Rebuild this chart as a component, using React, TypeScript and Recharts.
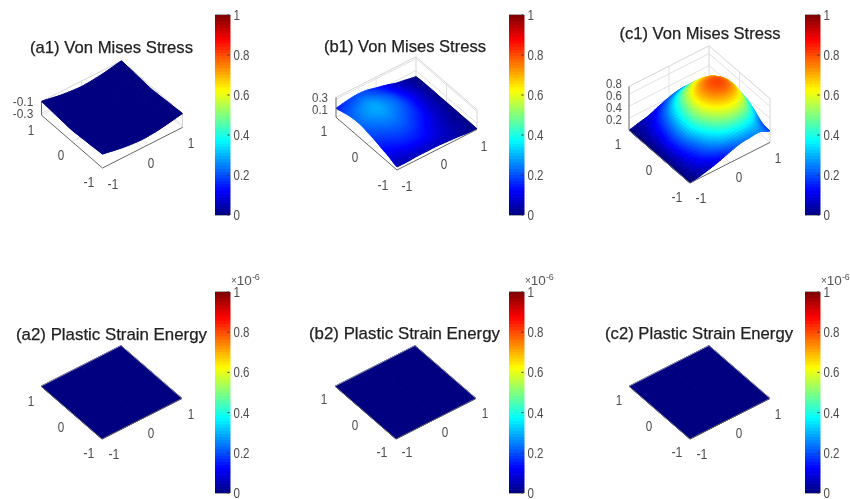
import React from 'react';
import { ScatterChart, Scatter, XAxis, YAxis, BarChart, Bar, ReferenceArea } from 'recharts';

const FONT = '"Liberation Sans", Arial, sans-serif';

// Heights, rows y = -1..1, columns x = -1..1
const zA1 = [
  [-0.10, -0.13, -0.16, -0.18, -0.19, -0.18, -0.16, -0.13, -0.10],
  [-0.11, -0.15, -0.18, -0.20, -0.21, -0.20, -0.18, -0.15, -0.11],
  [-0.12, -0.17, -0.20, -0.22, -0.23, -0.22, -0.20, -0.17, -0.12],
  [-0.13, -0.18, -0.21, -0.23, -0.24, -0.23, -0.21, -0.18, -0.13],
  [-0.14, -0.18, -0.22, -0.24, -0.25, -0.24, -0.22, -0.18, -0.14],
  [-0.13, -0.18, -0.21, -0.23, -0.24, -0.23, -0.21, -0.18, -0.13],
  [-0.12, -0.17, -0.20, -0.22, -0.23, -0.22, -0.20, -0.17, -0.12],
  [-0.11, -0.15, -0.18, -0.20, -0.21, -0.20, -0.18, -0.15, -0.11],
  [-0.10, -0.13, -0.16, -0.18, -0.19, -0.18, -0.16, -0.13, -0.10],
];
const zB1 = [
  [0.05, 0.05, 0.06, 0.06, 0.06, 0.05, 0.04, 0.02, 0.01],
  [0.10, 0.11, 0.13, 0.13, 0.11, 0.08, 0.05, 0.03, 0.01],
  [0.14, 0.16, 0.18, 0.17, 0.14, 0.10, 0.06, 0.03, 0.01],
  [0.18, 0.20, 0.22, 0.21, 0.17, 0.13, 0.08, 0.04, 0.01],
  [0.21, 0.24, 0.26, 0.24, 0.20, 0.15, 0.09, 0.05, 0.01],
  [0.23, 0.27, 0.29, 0.26, 0.22, 0.16, 0.10, 0.05, 0.01],
  [0.22, 0.26, 0.28, 0.25, 0.21, 0.15, 0.10, 0.05, 0.01],
  [0.19, 0.22, 0.24, 0.22, 0.18, 0.13, 0.08, 0.04, 0.01],
  [0.15, 0.18, 0.20, 0.19, 0.15, 0.11, 0.06, 0.03, 0.00],
];
const zC1 = [
  [0, 0.03, 0.07, 0.12, 0.18, 0.23, 0.25, 0.26, 0.19],
  [0, 0.07, 0.15, 0.25, 0.36, 0.43, 0.43, 0.35, 0.21],
  [0, 0.10, 0.21, 0.37, 0.53, 0.63, 0.63, 0.52, 0.31],
  [0, 0.12, 0.27, 0.47, 0.66, 0.77, 0.77, 0.65, 0.39],
  [0, 0.13, 0.28, 0.48, 0.69, 0.79, 0.79, 0.67, 0.41],
  [0, 0.11, 0.25, 0.43, 0.62, 0.72, 0.72, 0.60, 0.36],
  [0, 0.09, 0.20, 0.35, 0.50, 0.59, 0.59, 0.49, 0.29],
  [0, 0.06, 0.14, 0.24, 0.35, 0.42, 0.42, 0.34, 0.20],
  [0, 0.04, 0.08, 0.15, 0.21, 0.25, 0.25, 0.20, 0.12],
];
const zFlat = [
  [0, 0, 0],
  [0, 0, 0],
  [0, 0, 0],
];

const barTicks = [0, 0.2, 0.4, 0.6, 0.8, 1];
const jetSteps = 64;

const panels = [
  {
    id: 'a1', title: '(a1) Von Mises Stress', tx: 111.5, ty: 47, tw: 163, ox: 102.5, oy: 168, z: zA1, zFloor: -0.33, zTop: -0.1, zLines: [-0.3],
    barX: 215, barTop: 15, barH: 200, exp: false,
    labels: [['-0.1', 23, 101], ['-0.3', 23, 113], ['1', 31, 130], ['0', 61, 155], ['-1', 89, 182], ['-1', 113, 184], ['0', 151, 163], ['1', 191, 143]],
  },
  {
    id: 'b1', title: '(b1) Von Mises Stress', tx: 405, ty: 46, tw: 162, ox: 397, oy: 170, z: zB1, zFloor: 0, zTop: 0.33, zLines: [0.1, 0.3],
    barX: 509, barTop: 15, barH: 200, exp: false,
    labels: [['0.3', 320, 97], ['0.1', 320, 109], ['1', 324, 131], ['0', 355, 157], ['-1', 383, 185], ['-1', 407, 186], ['0', 444, 164], ['1', 484, 146]],
  },
  {
    id: 'c1', title: '(c1) Von Mises Stress', tx: 700, ty: 33, tw: 161, ox: 690, oy: 183, z: zC1, zFloor: 0, zTop: 0.73, zLines: [0.2, 0.4, 0.6],
    barX: 805, barTop: 15, barH: 200, exp: false,
    labels: [['0.8', 614, 83], ['0.6', 614, 95], ['0.4', 614, 107], ['0.2', 614, 119], ['1', 618, 144], ['0', 649, 170], ['-1', 677, 197], ['-1', 701, 198], ['0', 739, 177], ['1', 778, 158]],
  },
  {
    id: 'a2', title: '(a2) Plastic Strain Energy', tx: 111.5, ty: 334, tw: 191, ox: 102, oy: 439, z: zFlat, zFloor: 0, zTop: 0, zLines: [],
    barX: 215, barTop: 292, barH: 201, exp: true,
    labels: [['1', 31, 401], ['0', 61, 427], ['-1', 89, 453], ['-1', 114, 454], ['0', 151, 433], ['1', 191, 414]],
  },
  {
    id: 'b2', title: '(b2) Plastic Strain Energy', tx: 404.5, ty: 333, tw: 191, ox: 396, oy: 439, z: zFlat, zFloor: 0, zTop: 0, zLines: [],
    barX: 509, barTop: 292, barH: 201, exp: true,
    labels: [['1', 324, 399], ['0', 355, 425], ['-1', 382, 452], ['-1', 407, 452], ['0', 445, 432], ['1', 485, 413]],
  },
  {
    id: 'c2', title: '(c2) Plastic Strain Energy', tx: 699, ty: 333, tw: 188, ox: 690, oy: 439, z: zFlat, zFloor: 0, zTop: 0, zLines: [],
    barX: 805, barTop: 292, barH: 201, exp: true,
    labels: [['1', 619, 400], ['0', 649, 426], ['-1', 677, 452], ['-1', 702, 454], ['0', 739, 433], ['1', 778, 414]],
  },
];

type Panel = (typeof panels)[number];

const VIEW = { exx: 40, exy: -20.3, eyx: -30.5, eyy: -26.4, zs: 60 };

function project(p: Panel, x: number, y: number, z: number) {
  return {
    px: p.ox + (x + 1) * VIEW.exx + (y + 1) * VIEW.eyx,
    py: p.oy + (x + 1) * VIEW.exy + (y + 1) * VIEW.eyy - (z - p.zFloor) * VIEW.zs,
  };
}

function jet(v0: number) {
  const v = Math.max(0, Math.min(1, v0));
  const c = (t: number) => Math.round(255 * Math.max(0, Math.min(1, t)));
  const r = c(Math.min(4 * v - 1.5, -4 * v + 4.5));
  const g = c(Math.min(4 * v - 0.5, -4 * v + 3.5));
  const b = c(Math.min(4 * v + 0.5, -4 * v + 2.5));
  return `rgb(${r},${g},${b})`;
}

// colour ramp of the colour bars: one equal band per colour, stacked from 0 to 1
const bandKeys = Array.from({ length: jetSteps }, (_, i) => `band${i}`);
const bandRow: Record<string, any> = { name: 'scale' };
bandKeys.forEach((k) => {
  bandRow[k] = 1 / jetSteps;
});
const bandData = [bandRow];

// smooth drawing between the grid heights
function cr(a: number, b: number, c: number, d: number, t: number) {
  return 0.5 * (2 * b + (c - a) * t + (2 * a - 5 * b + 4 * c - d) * t * t + (3 * b - a - 3 * c + d) * t * t * t);
}
function heightAt(g: number[][], i: number, j: number, u: number, v: number) {
  const n = g.length - 1;
  const cl = (k: number) => Math.max(0, Math.min(n, k));
  const rows = [-1, 0, 1, 2].map((dj) => {
    const r = g[cl(j + dj)];
    return cr(r[cl(i - 1)], r[cl(i)], r[cl(i + 1)], r[cl(i + 2)], u);
  });
  return cr(rows[0], rows[1], rows[2], rows[3], v);
}

// one record per grid cell, back cells first
function surfaceCells(p: Panel) {
  const n = p.z.length - 1;
  const cells: any[] = [];
  for (let i = 0; i < n; i++) {
    for (let j = 0; j < n; j++) {
      const x0 = -1 + (2 * i) / n;
      const y0 = -1 + (2 * j) / n;
      const q = project(p, x0, y0, p.z[j][i]);
      cells.push({ px: q.px, py: q.py, panel: p, x0, y0, d: 2 / n, i, j });
    }
  }
  return cells.sort((a, b) => b.x0 + b.y0 - (a.x0 + a.y0));
}

function CellShape(props: any) {
  const { cx, cy, payload: c } = props;
  const p: Panel = c.panel;
  const n = p.z === zFlat ? 1 : 7;
  const base = project(p, c.x0, c.y0, p.z[c.j][c.i]);
  const at = (u: number, v: number) => {
    const z = heightAt(p.z, c.i, c.j, u, v);
    const q = project(p, c.x0 + u * c.d, c.y0 + v * c.d, z);
    return { x: cx + q.px - base.px, y: cy + q.py - base.py, z };
  };
  const polys: React.ReactNode[] = [];
  for (let s = n - 1; s >= 0; s--) {
    for (let t = n - 1; t >= 0; t--) {
      const a = at(s / n, t / n);
      const b = at((s + 1) / n, t / n);
      const d = at((s + 1) / n, (t + 1) / n);
      const e = at(s / n, (t + 1) / n);
      const col = jet((a.z + b.z + d.z + e.z) / 4);
      polys.push(
        <polygon key={`${s}-${t}`} points={`${a.x},${a.y} ${b.x},${b.y} ${d.x},${d.y} ${e.x},${e.y}`} fill={col} stroke={col} strokeWidth={1} strokeLinejoin="round" />,
      );
    }
  }
  return <g>{polys}</g>;
}

function SegmentShape(props: any) {
  const { cx, cy, payload: s } = props;
  return <line x1={cx} y1={cy} x2={cx + s.dx} y2={cy + s.dy} stroke={s.color} strokeWidth={s.w} />;
}

function seg(p: Panel, a: number[], b: number[], color: string, w: number) {
  const q0 = project(p, a[0], a[1], a[2]);
  const q1 = project(p, b[0], b[1], b[2]);
  return { px: q0.px, py: q0.py, dx: q1.px - q0.px, dy: q1.py - q0.py, color, w };
}

function wallSegments(p: Panel) {
  if (p.zTop <= p.zFloor) return [];
  const f = p.zFloor;
  const t = p.zTop;
  const c = '#e2e2e2';
  const out = [
    seg(p, [-1, 1, f], [1, 1, f], c, 1),
    seg(p, [1, 1, f], [1, -1, f], c, 1),
    seg(p, [0, 1, f], [0, 1, t], c, 1),
    seg(p, [1, 0, f], [1, 0, t], c, 1),
    seg(p, [1, 1, f], [1, 1, t], '#d6d6d6', 1),
    seg(p, [1, -1, f], [1, -1, t], '#d6d6d6', 1),
    seg(p, [-1, 1, t], [1, 1, t], '#d6d6d6', 1),
    seg(p, [1, 1, t], [1, -1, t], '#d6d6d6', 1),
    seg(p, [0, -1, f], [0, 1, f], c, 1),
    seg(p, [-1, 0, f], [1, 0, f], c, 1),
  ];
  p.zLines.forEach((z) => {
    out.push(seg(p, [-1, 1, z], [1, 1, z], c, 1));
    out.push(seg(p, [1, 1, z], [1, -1, z], c, 1));
  });
  return out;
}

function edgeSegments(p: Panel) {
  const f = p.zFloor;
  const out = [
    seg(p, [-1, -1, f], [-1, 1, f], '#666', 1),
    seg(p, [-1, -1, f], [1, -1, f], '#666', 1),
  ];
  if (p.zTop > p.zFloor) {
    out.push(seg(p, [-1, 1, f], [-1, 1, p.zTop], '#666', 1));
  } else {
    out.push(seg(p, [-1, 1, f], [1, 1, f], '#aaa', 0.8));
    out.push(seg(p, [1, 1, f], [1, -1, f], '#aaa', 0.8));
  }
  return out;
}

function labelWidth(s: string) {
  let w = 0;
  for (const ch of s) w += ch === '.' ? 3 : ch === '-' ? 4.5 : 6.5;
  return w;
}

function TextShape(props: any) {
  const { cx, cy, payload: d } = props;
  return (
    <text
      x={cx}
      y={cy}
      textAnchor="middle"
      dominantBaseline="central"
      fontFamily={FONT}
      fontSize={d.size}
      fill={d.color}
      stroke={d.bold ? d.color : 'none'}
      strokeWidth={d.bold ? 0.25 : 0}
      textLength={d.len}
      lengthAdjust="spacingAndGlyphs"
    >
      {d.text}
    </text>
  );
}

const textData = panels.flatMap((p) => [
  { px: p.tx, py: p.ty, text: p.title, size: 17, color: '#222', len: p.tw, bold: true },
  ...p.labels.map((l) => {
    const s = l[0] as string;
    return { px: l[1] as number, py: l[2] as number, text: s, size: s.includes('.') ? 13.5 : 14.5, color: '#4d4d4d', len: labelWidth(s), bold: false };
  }),
]);

function ExpShape(props: any) {
  const { cx, cy } = props;
  return (
    <text x={cx} y={cy} fontFamily={FONT} fill="#555" dominantBaseline="central">
      <tspan fontSize={10}>×</tspan>
      <tspan fontSize={13.5}>10</tspan>
      <tspan fontSize={9} dy={-3}>-6</tspan>
    </text>
  );
}

const expData = panels.filter((p) => p.exp).map((p) => ({ px: p.barX + 16, py: p.barTop - 12 }));

function BarTick(props: any) {
  const { x, y, payload } = props;
  const s = String(payload.value);
  return (
    <g>
      <line x1={x - 2} y1={y} x2={x} y2={y} stroke="#333" />
      <text x={x + 4} y={y} dominantBaseline="central" fontFamily={FONT} fontSize={14.5} fill="#4d4d4d" textLength={labelWidth(s)} lengthAdjust="spacingAndGlyphs">
        {s}
      </text>
    </g>
  );
}

function ColorBar({ p }: { p: Panel }) {
  const w = 14.5;
  const axisW = 30;
  const pad = Math.min(12, 499 - p.barTop - p.barH + 0);
  return (
    <div style={{ position: 'absolute', left: p.barX, top: p.barTop - 12 }}>
      <BarChart
        width={w + axisW}
        height={p.barH + 24}
        data={bandData}
        margin={{ top: 12, right: 0, bottom: 12, left: 0 }}
        barCategoryGap={0}
      >
        <XAxis type="category" dataKey="name" hide />
        <YAxis
          type="number"
          orientation="right"
          domain={[0, 1]}
          allowDataOverflow
          ticks={barTicks}
          width={axisW}
          axisLine={false}
          tickLine={false}
          tickSize={0}
          tickMargin={0}
          tick={<BarTick />}
          interval={0}
        />
        {bandKeys.map((k, i) => {
          const col = jet((i + 0.5) / jetSteps);
          return <Bar key={k} dataKey={k} stackId="ramp" fill={col} stroke={col} strokeWidth={1} isAnimationActive={false} />;
        })}
        <ReferenceArea y1={0} y2={1} fill="none" stroke="#555" strokeWidth={1} />
      </BarChart>
    </div>
  );
}

export default function App() {
  return (
    <div style={{ position: 'absolute', left: 0, top: 0, width: 850, height: 499, overflow: 'hidden', background: '#fff', filter: 'blur(0.55px)' }}>
      <div style={{ position: 'absolute', left: 0, top: 0 }}>
        <ScatterChart width={850} height={499} margin={{ top: 0, right: 0, bottom: 0, left: 0 }}>
          <XAxis type="number" dataKey="px" domain={[0, 850]} hide />
          <YAxis type="number" dataKey="py" domain={[0, 499]} reversed hide />
          {panels.map((p) => (
            <Scatter key={`w${p.id}`} data={wallSegments(p)} shape={<SegmentShape />} isAnimationActive={false} />
          ))}
          {panels.map((p) => (
            <Scatter key={`s${p.id}`} data={surfaceCells(p)} shape={<CellShape />} isAnimationActive={false} />
          ))}
          {panels.map((p) => (
            <Scatter key={`e${p.id}`} data={edgeSegments(p)} shape={<SegmentShape />} isAnimationActive={false} />
          ))}
          <Scatter data={textData} shape={<TextShape />} isAnimationActive={false} />
          <Scatter data={expData} shape={<ExpShape />} isAnimationActive={false} />
        </ScatterChart>
      </div>
      {panels.map((p) => (
        <ColorBar key={p.id} p={p} />
      ))}
    </div>
  );
}
